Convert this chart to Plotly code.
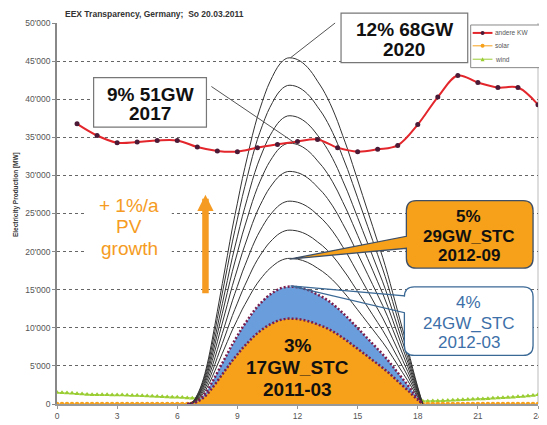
import numpy as np
import plotly.graph_objects as go

# ---------------- data ----------------
hours_hourly = list(range(1, 25))
andere_kw_mw = [36770, 35240, 34290, 34370, 34590, 34590, 33720, 33200, 33120, 33640, 34070, 34460,
                34720, 33640, 33120, 33420, 33940, 36670, 40280, 43100, 42180, 41530, 41530, 39280]

hours_quarter = np.round(np.arange(0, 24.001, 0.25), 2)          # 97 quarter-hours
wind_mw = [1500, 1480, 1450, 1400, 1350, 1300, 1260, 1230, 1220, 1200, 1200, 1190, 1180,
           1170, 1150, 1130, 1110, 1080, 1050, 1020, 990, 960, 930, 900, 870,
           840, 800, 760, 720, 680, 650, 620, 600,
           590, 580, 570, 560, 550, 540, 530, 520, 510, 500, 490, 480, 470, 460, 450, 440,
           430, 420, 410, 400, 400, 400, 390, 390, 380, 380, 370, 370, 360, 360, 360, 350,
           350, 350, 350, 350, 350, 350, 350, 350,
           350, 370, 390, 410, 430, 460, 490, 520, 550, 580, 610, 640,
           670, 700, 740, 780, 820, 860, 900, 950, 1000, 1060, 1120, 1200]

day_hours = np.round(np.arange(6.5, 18.2501, 0.25), 2)             # 48 quarter-hours
solar_2011_mw = [0, 60, 300, 700, 1300, 2100, 3000, 3900, 4800, 5700, 6500, 7300, 8000, 8700,
                 9300, 9800, 10250, 10600, 10900, 11100, 11200, 11200, 11150, 11050, 10900,
                 10700, 10450, 10200, 9900, 9550, 9150, 8700, 8250, 7750, 7250, 6750, 6250,
                 5750, 5250, 4750, 4200, 3600, 3000, 2400, 1800, 1150, 550, 0]

scenario_gw = [17, 24, 29, 34, 40, 46, 51, 57, 62, 68]
scenario_peak_mw = [11200, 15400, 19100, 22800, 26600, 30500, 34200, 37800, 41800, 45400]

y_tick_vals = [0, 5000, 10000, 15000, 20000, 25000, 30000, 35000, 40000, 45000, 50000]
y_tick_text = ["0", "5'000", "10'000", "15'000", "20'000", "25'000", "30'000", "35'000",
               "40'000", "45'000", "50'000"]
x_tick_vals = [0, 3, 6, 9, 12, 15, 18, 21, 24]

# ---------------- geometry (page pixels; the page body adds an 8px offset) ----------------
PAGE_OFF = 8
W, H = 547, 425
L, R, T, B = 57, 543, 23, 407
FONT = "Liberation Sans, Arial, sans-serif"
ORANGE = "#F7A11A"
BLUE_FILL = "#6A9DDB"
DOT = "#7a1e4e"


def pxx(x):
    return (x - L) / (R - L)


def pyy(y):
    return (B - y) / (B - T)


def path_from(points_cmds):
    out = []
    for cmd in points_cmds:
        if cmd[0] in ("M", "L"):
            out.append(f"{cmd[0]}{pxx(cmd[1]):.5f},{pyy(cmd[2]):.5f}")
        elif cmd[0] == "Q":
            out.append(f"Q{pxx(cmd[1]):.5f},{pyy(cmd[2]):.5f} {pxx(cmd[3]):.5f},{pyy(cmd[4]):.5f}")
        elif cmd[0] == "Z":
            out.append("Z")
    return " ".join(out)


def rounded(x0, y0, x1, y1, r, tail=None, close=True):
    c = [("M", x0 + r, y0), ("L", x1 - r, y0), ("Q", x1, y0, x1, y0 + r),
         ("L", x1, y1 - r), ("Q", x1, y1, x1 - r, y1), ("L", x0 + r, y1),
         ("Q", x0, y1, x0, y1 - r)]
    if tail:
        (ty_low, tip_x, tip_y, ty_high) = tail
        c += [("L", x0, ty_low), ("L", tip_x, tip_y), ("L", x0, ty_high)]
    c += [("L", x0, y0 + r), ("Q", x0, y0, x0 + r, y0)]
    if close:
        c.append(("Z",))
    return path_from(c)


base = np.array(solar_2011_mw, dtype=float)
curves = [base * p / base.max() for p in scenario_peak_mw]
solar_full = np.zeros(len(hours_quarter))
solar_full[26:26 + len(base)] = base

fig = go.Figure()

# wind (under the solar fill)
fig.add_trace(go.Scatter(x=hours_quarter, y=wind_mw, mode="lines+markers",
                         line=dict(color="#9ACD32", width=1),
                         marker=dict(symbol="triangle-up", size=5, color="#9ACD32"),
                         showlegend=False, hoverinfo="skip"))
# solar 2011-03 (orange area)
fig.add_trace(go.Scatter(x=hours_quarter, y=solar_full, mode="lines+markers",
                         line=dict(color=ORANGE, width=1), fill="tozeroy", fillcolor=ORANGE,
                         marker=dict(size=4.5, color=ORANGE),
                         showlegend=False, hoverinfo="skip"))
# helper and blue 2012-03 area
fig.add_trace(go.Scatter(x=day_hours, y=curves[0], mode="lines", line=dict(width=0),
                         showlegend=False, hoverinfo="skip"))
fig.add_trace(go.Scatter(x=day_hours, y=curves[1], mode="lines", line=dict(width=0),
                         fill="tonexty", fillcolor=BLUE_FILL, showlegend=False, hoverinfo="skip"))
# scenario lines
for cv in curves[2:]:
    fig.add_trace(go.Scatter(x=day_hours, y=cv, mode="lines", line=dict(color="#333333", width=1, shape="spline"),
                             showlegend=False, hoverinfo="skip"))
# dotted edges
for cv in curves[:2]:
    fig.add_trace(go.Scatter(x=day_hours, y=cv, mode="lines",
                             line=dict(color=DOT, width=2.5, dash="2px,2px", shape="spline"),
                             showlegend=False, hoverinfo="skip"))
# andere KW
fig.add_trace(go.Scatter(x=hours_hourly, y=andere_kw_mw, mode="lines+markers",
                         line=dict(color="#E3262B", width=2, shape="spline", smoothing=1),
                         marker=dict(size=5, color="#4a1a36"),
                         showlegend=False, hoverinfo="skip"))

shapes = []
# right border
shapes.append(dict(type="line", xref="paper", yref="paper", x0=1, x1=1, y0=0, y1=1,
                   line=dict(color="#bbbbbb", width=1), layer="below"))
# white backing behind the growth text
shapes.append(dict(type="rect", xref="paper", yref="paper", x0=pxx(86), x1=pxx(173), y0=pyy(190), y1=pyy(266),
                   fillcolor="white", line=dict(width=0), layer="above"))
# pointer lines
shapes.append(dict(type="line", xref="paper", yref="paper", x0=pxx(338), y0=pyy(23), x1=pxx(293), y1=pyy(58),
                   line=dict(color="#555555", width=1), layer="above"))
shapes.append(dict(type="line", xref="paper", yref="paper", x0=pxx(213), y0=pyy(87), x1=pxx(296), y1=pyy(143),
                   line=dict(color="#555555", width=1), layer="above"))
# plain boxes
shapes.append(dict(type="rect", xref="paper", yref="paper", x0=pxx(344), x1=pxx(472), y0=pyy(13), y1=pyy(63),
                   fillcolor="white", line=dict(color="#777777", width=1.2), layer="above"))
shapes.append(dict(type="rect", xref="paper", yref="paper", x0=pxx(94), x1=pxx(208), y0=pyy(78), y1=pyy(128),
                   fillcolor="white", line=dict(color="#777777", width=1.2), layer="above"))
# orange callout
shapes.append(dict(type="path", xref="paper", yref="paper",
                   path=rounded(410, 202, 538, 270, 10, tail=(250, 292, 261, 238)),
                   fillcolor=ORANGE, line=dict(color="#3E4F66", width=1.3), layer="above"))
# blue callout: fill then open outline with tail
shapes.append(dict(type="path", xref="paper", yref="paper", path=rounded(408, 289, 538, 358, 10),
                   fillcolor="white", line=dict(width=0), layer="above"))
shapes.append(dict(type="path", xref="paper", yref="paper",
                   path=rounded(408, 289, 538, 358, 10, tail=(315, 293, 288, 298), close=False),
                   fillcolor="rgba(0,0,0,0)", line=dict(color="#3B6996", width=1.3), layer="above"))
# legend box
shapes.append(dict(type="rect", xref="paper", yref="paper", x0=pxx(475), x1=pxx(546), y0=pyy(25), y1=pyy(68),
                   fillcolor="white", line=dict(color="#888888", width=1), layer="above"))
leg = [("andere KW", "#E3262B", 33, "circle", "#4a1a36", 2),
       ("solar", ORANGE, 46, "circle", ORANGE, 1),
       ("wind", "#9ACD32", 59.5, "triangle", "#9ACD32", 1)]
for name, col, yy, sym, mcol, lw in leg:
    shapes.append(dict(type="line", xref="paper", yref="paper", x0=pxx(477), x1=pxx(497), y0=pyy(yy), y1=pyy(yy),
                       line=dict(color=col, width=lw), layer="above"))
    if sym == "circle":
        shapes.append(dict(type="circle", xref="paper", yref="paper", x0=pxx(485), x1=pxx(489),
                           y0=pyy(yy - 2), y1=pyy(yy + 2), fillcolor=mcol, line=dict(width=0), layer="above"))
    else:
        shapes.append(dict(type="path", xref="paper", yref="paper",
                           path=path_from([("M", 485, yy + 2), ("L", 489, yy + 2), ("L", 487, yy - 2), ("Z",)]),
                           fillcolor=mcol, line=dict(width=0), layer="above"))

annotations = []


def txt(text, x, y, size, color="#111111", bold=False, xanchor="center"):
    annotations.append(dict(text=f"<b>{text}</b>" if bold else text, xref="paper", yref="paper",
                            x=pxx(x), y=pyy(y), xanchor=xanchor, yanchor="middle", showarrow=False,
                            font=dict(family=FONT, size=size, color=color)))


txt("12% 68GW", 408, 30, 19, bold=True)
txt("2020", 408, 50, 19, bold=True)
txt("9% 51GW", 151, 95, 19, bold=True)
txt("2017", 151, 114, 19, bold=True)
txt("5%", 473, 218, 17, bold=True)
txt("29GW_STC", 473, 238, 17, bold=True)
txt("2012-09", 473, 257, 17, bold=True)
txt("4%", 473, 305, 17, color="#3D6FA8")
txt("24GW_STC", 473, 326, 17, color="#3D6FA8")
txt("2012-03", 473, 345, 17, color="#3D6FA8")
txt("3%", 300, 348, 19, bold=True)
txt("17GW_STC", 300, 370, 19, bold=True)
txt("2011-03", 300, 392, 19, bold=True)
txt("+ 1%/a", 130, 207, 19, color="#F59B23")
txt("PV", 130, 228, 19, color="#F59B23")
txt("growth", 130, 250, 19, color="#F59B23")
txt("EEX Transparency, Germany;  So 20.03.2011", 63, 14, 8.5, color="#333333", bold=True, xanchor="left")
for name, col, yy, sym, mcol, lw in leg:
    txt(name, 498, yy, 6.5, color="#555555", xanchor="left")
annotations.append(dict(text="<b>Electricity Production [MW]</b>", xref="paper", yref="paper",
                        x=pxx(15), y=pyy(196), textangle=-90, showarrow=False, xanchor="center",
                        yanchor="middle", font=dict(family=FONT, size=6.5, color="#333333")))
# growth arrow
annotations.append(dict(text="", xref="paper", yref="paper", x=pxx(207), y=pyy(196), ax=0, ay=100,
                        showarrow=True, arrowhead=2, arrowwidth=6.5, arrowsize=0.5, arrowcolor="#F59B23"))

fig.update_layout(
    width=W - PAGE_OFF, height=H - PAGE_OFF,
    margin=dict(l=L - PAGE_OFF, r=W - R, t=T - PAGE_OFF, b=H - B),
    paper_bgcolor="white", plot_bgcolor="white", showlegend=False,
    font=dict(family=FONT, size=8.5, color="#555555"),
    shapes=shapes, annotations=annotations,
    xaxis=dict(range=[0, 24], tickvals=x_tick_vals, showgrid=False, zeroline=False,
               showline=True, linecolor="#999999", linewidth=2, ticks="outside", ticklen=3,
               tickcolor="#999999", tickfont=dict(size=8.5, color="#555555"),
               ticklabeloverflow="allow"),
    yaxis=dict(range=[0, 50000], tickvals=y_tick_vals, ticktext=y_tick_text, showgrid=True,
               gridcolor="#666666", griddash="3px,3px", gridwidth=1, zeroline=False,
               showline=True, linecolor="#888888", linewidth=1.5, ticks="outside", ticklen=3,
               tickcolor="#888888", tickfont=dict(size=8.5, color="#555555")),
)

fig.write_html("out.html")
